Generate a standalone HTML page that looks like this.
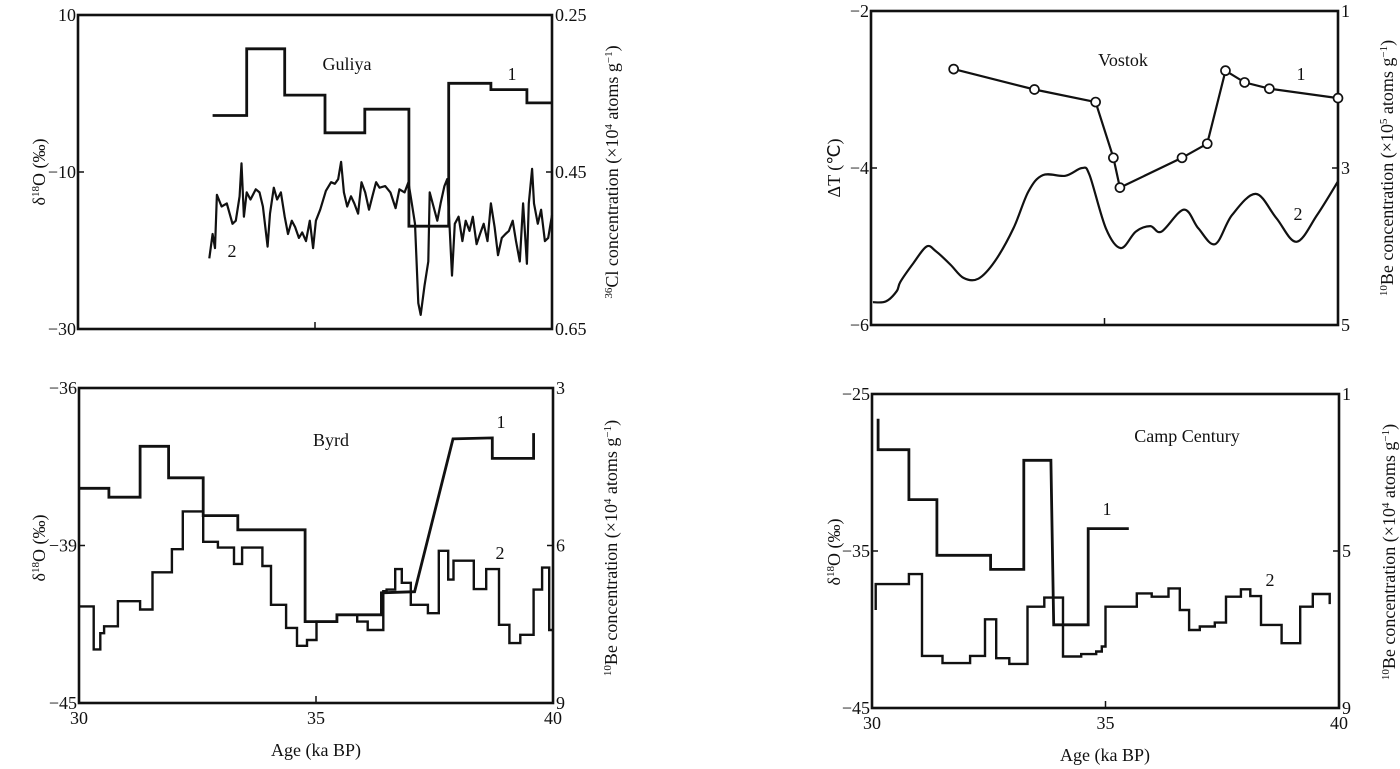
<!DOCTYPE html>
<html><head><meta charset="utf-8"><title>Ice core records 30-40 ka BP</title>
<style>
html,body{margin:0;padding:0;background:#fff;}
svg{display:block;font-family:"Liberation Serif",serif;}
text{fill:#111;}
.tick{font-size:18px;}
.ttl{font-size:18px;}
.lbl{font-size:18px;}
</style></head>
<body>
<svg id="chart" width="1400" height="769" viewBox="0 0 1400 769" xmlns="http://www.w3.org/2000/svg">
  <text class="ttl" transform="translate(45,172) rotate(-90)" text-anchor="middle">δ<tspan font-size="11" dy="-6">18</tspan><tspan dy="6">O (‰)</tspan></text>
  <text class="ttl" transform="translate(618,172) rotate(-90)" text-anchor="middle"><tspan font-size="11" dy="-6">36</tspan><tspan dy="6">Cl concentration (×10</tspan><tspan font-size="11" dy="-6">4</tspan><tspan dy="6"> atoms g</tspan><tspan font-size="11" dy="-6">−1</tspan><tspan dy="6">)</tspan></text>
  <text class="ttl" transform="translate(840,168) rotate(-90)" text-anchor="middle">ΔT (℃)</text>
  <text class="ttl" transform="translate(1393,168) rotate(-90)" text-anchor="middle"><tspan font-size="11" dy="-6">10</tspan><tspan dy="6">Be concentration (×10</tspan><tspan font-size="11" dy="-6">5</tspan><tspan dy="6"> atoms g</tspan><tspan font-size="11" dy="-6">−1</tspan><tspan dy="6">)</tspan></text>
  <text class="ttl" transform="translate(45,548) rotate(-90)" text-anchor="middle">δ<tspan font-size="11" dy="-6">18</tspan><tspan dy="6">O (‰)</tspan></text>
  <text class="ttl" transform="translate(617,548) rotate(-90)" text-anchor="middle"><tspan font-size="11" dy="-6">10</tspan><tspan dy="6">Be concentration (×10</tspan><tspan font-size="11" dy="-6">4</tspan><tspan dy="6"> atoms g</tspan><tspan font-size="11" dy="-6">−1</tspan><tspan dy="6">)</tspan></text>
  <text class="ttl" transform="translate(840,552) rotate(-90)" text-anchor="middle">δ<tspan font-size="11" dy="-6">18</tspan><tspan dy="6">O (‰)</tspan></text>
  <text class="ttl" transform="translate(1395,552) rotate(-90)" text-anchor="middle"><tspan font-size="11" dy="-6">10</tspan><tspan dy="6">Be concentration (×10</tspan><tspan font-size="11" dy="-6">4</tspan><tspan dy="6"> atoms g</tspan><tspan font-size="11" dy="-6">−1</tspan><tspan dy="6">)</tspan></text>
  <text class="ttl" x="316" y="756" text-anchor="middle">Age (ka BP)</text>
  <text class="ttl" x="1105" y="761" text-anchor="middle">Age (ka BP)</text>
  <text class="lbl" x="347" y="70" text-anchor="middle">Guliya</text>
  <text class="lbl" x="512" y="80" text-anchor="middle">1</text>
  <text class="lbl" x="232" y="257" text-anchor="middle">2</text>
  <text class="lbl" x="1123" y="66" text-anchor="middle">Vostok</text>
  <text class="lbl" x="1301" y="80" text-anchor="middle">1</text>
  <text class="lbl" x="1298" y="220" text-anchor="middle">2</text>
  <text class="lbl" x="331" y="446" text-anchor="middle">Byrd</text>
  <text class="lbl" x="501" y="428" text-anchor="middle">1</text>
  <text class="lbl" x="500" y="559" text-anchor="middle">2</text>
  <text class="lbl" x="1187" y="442" text-anchor="middle">Camp Century</text>
  <text class="lbl" x="1107" y="515" text-anchor="middle">1</text>
  <text class="lbl" x="1270" y="586" text-anchor="middle">2</text>
  <g id="marks"></g>
</svg>
<script>
const xTickValues = [30, 35, 40];
const xTickLabels = ["30", "35", "40"];

const guliyaLeftTicks = [10, -10, -30];
const guliyaLeftLabels = ["10", "−10", "−30"];
const guliyaRightTicks = [0.25, 0.45, 0.65];
const guliyaRightLabels = ["0.25", "0.45", "0.65"];
const guliyaClEdges = [32.84, 33.56, 34.36, 35.21, 36.05, 36.98, 37.82, 38.71, 39.47, 40.0];
const guliyaClLevels = [0.378, 0.293, 0.352, 0.400, 0.370, 0.519, 0.337, 0.345, 0.362];
const guliyaO18Ages = [32.77,32.84,32.89,32.93,33.03,33.14,33.26,33.33,33.41,33.45,33.50,33.56,33.64,33.75,33.83,33.90,34.00,34.05,34.13,34.20,34.28,34.36,34.43,34.51,34.58,34.66,34.73,34.81,34.89,34.96,35.02,35.11,35.23,35.34,35.42,35.49,35.55,35.61,35.68,35.76,35.83,35.91,35.98,36.06,36.14,36.21,36.29,36.36,36.48,36.59,36.70,36.78,36.89,36.97,37.03,37.11,37.18,37.23,37.31,37.39,37.42,37.50,37.58,37.65,37.73,37.79,37.84,37.89,37.95,38.03,38.11,38.18,38.26,38.33,38.41,38.48,38.56,38.64,38.71,38.79,38.86,38.94,39.02,39.09,39.17,39.24,39.32,39.39,39.47,39.51,39.58,39.62,39.70,39.77,39.85,39.92,40.0];
const guliyaO18Values = [-21.0,-17.9,-19.7,-12.9,-14.4,-14.0,-16.6,-16.2,-13.1,-8.9,-15.7,-12.6,-13.5,-12.2,-12.6,-14.4,-19.5,-15.3,-12.0,-13.5,-12.6,-15.7,-17.9,-16.2,-17.0,-18.4,-17.7,-18.8,-16.2,-19.7,-16.2,-14.8,-12.4,-11.3,-11.5,-10.9,-8.7,-12.6,-14.4,-13.1,-14.0,-15.3,-11.3,-12.6,-14.8,-13.1,-11.3,-12.0,-11.8,-12.6,-14.6,-12.2,-12.6,-11.3,-13.5,-16.6,-26.7,-28.2,-24.5,-21.4,-12.6,-14.4,-16.2,-14.0,-11.8,-10.9,-17.0,-23.2,-16.6,-15.7,-18.8,-16.2,-17.5,-15.7,-19.2,-17.9,-16.6,-18.8,-14.0,-17.0,-20.6,-18.4,-17.9,-17.5,-16.2,-18.8,-21.4,-14.0,-21.7,-14.0,-9.6,-14.0,-16.6,-14.8,-18.8,-18.4,-15.5];

const vostokLeftTicks = [-2, -4, -6];
const vostokLeftLabels = ["−2", "−4", "−6"];
const vostokRightTicks = [1, 3, 5];
const vostokRightLabels = ["1", "3", "5"];
const vostokBeAges = [31.77, 33.50, 34.81, 35.19, 35.33, 36.66, 37.20, 37.59, 38.00, 38.53, 40.0];
const vostokBeValues = [1.74, 2.00, 2.16, 2.87, 3.25, 2.87, 2.69, 1.76, 1.91, 1.99, 2.11];
const vostokTAges = [30.04,30.32,30.55,30.63,30.91,31.19,31.39,31.70,31.98,32.30,32.65,33.05,33.37,33.68,34.16,34.52,34.68,35.03,35.35,35.67,35.98,36.22,36.70,37.01,37.37,37.73,38.24,38.68,39.11,39.55,40.0];
const vostokTValues = [-5.71,-5.70,-5.57,-5.45,-5.21,-5.00,-5.06,-5.23,-5.40,-5.41,-5.19,-4.77,-4.30,-4.09,-4.10,-4.00,-4.09,-4.77,-5.02,-4.81,-4.74,-4.81,-4.53,-4.77,-4.97,-4.60,-4.33,-4.64,-4.94,-4.60,-4.17];

const byrdLeftTicks = [-36, -39, -42];
const byrdLeftLabels = ["−36", "−39", "−45"];
const byrdRightTicks = [3, 6, 9];
const byrdRightLabels = ["3", "6", "9"];
const byrdBeAges = [30.00,30.63,30.63,31.29,31.29,31.89,31.89,32.62,32.62,33.35,33.35,34.77,34.77,35.44,35.44,36.38,36.38,37.08,37.89,38.72,38.72,39.59,39.59];
const byrdBeValues = [4.91,4.91,5.08,5.08,4.11,4.11,4.71,4.71,5.43,5.43,5.70,5.70,7.45,7.45,7.32,7.32,6.90,6.88,3.97,3.95,4.34,4.34,3.86];
const byrdO18Edges = [30.00,30.31,30.45,30.53,30.82,31.29,31.55,31.96,32.19,32.62,32.93,33.27,33.44,33.87,34.05,34.37,34.60,34.81,35.01,35.44,35.87,36.09,36.42,36.49,36.67,36.81,37.00,37.36,37.59,37.79,37.90,38.33,38.59,38.86,39.08,39.31,39.59,39.77,39.92,40.0];
const byrdO18Levels = [-40.16,-40.98,-40.67,-40.54,-40.06,-40.22,-39.51,-39.07,-38.35,-38.93,-39.04,-39.35,-39.04,-39.39,-40.13,-40.57,-40.91,-40.80,-40.45,-40.32,-40.45,-40.61,-39.87,-39.84,-39.45,-39.71,-40.13,-40.29,-39.10,-39.65,-39.29,-39.83,-39.45,-40.51,-40.86,-40.70,-39.84,-39.42,-40.61];

const campLeftTicks = [-25, -35, -45];
const campLeftLabels = ["−25", "−35", "−45"];
const campRightTicks = [1, 5, 9];
const campRightLabels = ["1", "5", "9"];
const campBeAges = [30.13,30.13,30.79,30.79,31.39,31.39,32.54,32.54,33.25,33.25,33.83,33.89,34.63,34.63,35.50];
const campBeValues = [1.63,2.42,2.42,3.69,3.69,5.11,5.11,5.47,5.47,2.69,2.69,6.88,6.88,4.43,4.43];
const campO18Edges = [30.08,30.79,31.07,31.51,32.10,32.42,32.66,32.94,33.33,33.69,34.09,34.48,34.80,34.92,35.00,35.67,35.99,36.35,36.59,36.79,37.02,37.34,37.58,37.90,38.10,38.33,38.77,39.17,39.44,39.80];
const campO18Levels = [-37.11,-36.47,-41.68,-42.14,-41.68,-39.35,-41.83,-42.19,-38.55,-37.97,-41.72,-41.57,-41.40,-41.08,-38.55,-37.70,-37.91,-37.38,-38.76,-40.03,-39.81,-39.56,-37.91,-37.44,-37.87,-39.71,-40.87,-38.55,-37.74];
const campO18Tails = [-38.76, -38.38];

const NS = "http://www.w3.org/2000/svg";
const marks = document.getElementById("marks");
const panels = {
  guliya: {x0:78, x1:552, y0:15, y1:329, lt:10, lb:-30, rt:0.25, rb:0.65},
  vostok: {x0:871, x1:1338, y0:11, y1:325, lt:-2, lb:-6, rt:1, rb:5},
  byrd:   {x0:79, x1:553, y0:388, y1:703, lt:-36, lb:-42, rt:3, rb:9},
  camp:   {x0:872, x1:1339, y0:394, y1:708, lt:-25, lb:-45, rt:1, rb:9}
};
function sx(p, v){ return p.x0 + (v - 30) / 10 * (p.x1 - p.x0); }
function syL(p, v){ return p.y0 + (v - p.lt) / (p.lb - p.lt) * (p.y1 - p.y0); }
function syR(p, v){ return p.y0 + (v - p.rt) / (p.rb - p.rt) * (p.y1 - p.y0); }
function mk(tag, attrs, parent){
  const el = document.createElementNS(NS, tag);
  for (const k in attrs) el.setAttribute(k, attrs[k]);
  (parent || marks).appendChild(el);
  return el;
}
function txt(str, x, y, anchor){
  const t = mk("text", {x:x, y:y, "text-anchor":anchor, "class":"tick"});
  t.textContent = str;
  return t;
}

function drawFrame(key, p, leftT, leftL, rightT, rightL, showX){
  const r = mk("rect", {x:p.x0, y:p.y0, width:p.x1-p.x0, height:p.y1-p.y0, fill:"none", stroke:"#111", "stroke-width":2.6});
  
  
  leftT.forEach((v, i) => {
    const y = syL(p, v);
    const tk = mk("line", {x1:p.x0, x2:p.x0+6, y1:y, y2:y, stroke:"#111", "stroke-width":1.5});
    
    
    const t = txt(leftL[i], p.x0 - 2, y + 6, "end");
    
    
  });
  rightT.forEach((v, i) => {
    const y = syR(p, v);
    const tk = mk("line", {x1:p.x1-6, x2:p.x1, y1:y, y2:y, stroke:"#111", "stroke-width":1.5});
    
    
    const t = txt(rightL[i], p.x1 + 3, y + 6, "start");
    
    
  });
  xTickValues.forEach((v, i) => {
    const x = sx(p, v);
    if (i === 1) {
      const tk = mk("line", {x1:x, x2:x, y1:p.y1, y2:p.y1-7, stroke:"#111", "stroke-width":1.5});
      
      
    }
    if (showX) {
      const t = txt(xTickLabels[i], x, p.y1 + 21, "middle");
      
      
    }
  });
}

function stepPath(p, edges, levels, yf, tailStart, tailEnd){
  let d = "M" + sx(p, edges[0]).toFixed(1) + "," + (tailStart !== undefined ? yf(p, tailStart) : yf(p, levels[0])).toFixed(1);
  if (tailStart !== undefined) d += " V" + yf(p, levels[0]).toFixed(1);
  for (let i = 0; i < levels.length; i++) {
    d += " H" + sx(p, edges[i+1]).toFixed(1);
    if (i + 1 < levels.length) d += " V" + yf(p, levels[i+1]).toFixed(1);
  }
  if (tailEnd !== undefined) d += " V" + yf(p, tailEnd).toFixed(1);
  return d;
}
function linePath(p, xs, ys, yf){
  return xs.map((x, i) => (i ? "L" : "M") + sx(p, x).toFixed(1) + "," + yf(p, ys[i]).toFixed(1)).join(" ");
}
function smoothPath(p, xs, ys, yf){
  const pts = xs.map((x, i) => [sx(p, x), yf(p, ys[i])]);
  let d = "M" + pts[0][0].toFixed(1) + "," + pts[0][1].toFixed(1);
  for (let i = 0; i < pts.length - 1; i++) {
    const p0 = pts[Math.max(0, i-1)], p1 = pts[i], p2 = pts[i+1], p3 = pts[Math.min(pts.length-1, i+2)];
    const c1x = p1[0] + (p2[0]-p0[0])/6, c1y = p1[1] + (p2[1]-p0[1])/6;
    const c2x = p2[0] - (p3[0]-p1[0])/6, c2y = p2[1] - (p3[1]-p1[1])/6;
    d += " C" + c1x.toFixed(1)+","+c1y.toFixed(1)+" "+c2x.toFixed(1)+","+c2y.toFixed(1)+" "+p2[0].toFixed(1)+","+p2[1].toFixed(1);
  }
  return d;
}

const pg = panels.guliya;
drawFrame("guliya", pg, guliyaLeftTicks, guliyaLeftLabels, guliyaRightTicks, guliyaRightLabels, false);
const g1 = mk("path", {d: stepPath(pg, guliyaClEdges, guliyaClLevels, syR), fill:"none", stroke:"#111", "stroke-width":2.8});


const g2 = mk("path", {d: linePath(pg, guliyaO18Ages, guliyaO18Values, syL), fill:"none", stroke:"#111", "stroke-width":2.2, "stroke-linejoin":"round"});



const pv = panels.vostok;
drawFrame("vostok", pv, vostokLeftTicks, vostokLeftLabels, vostokRightTicks, vostokRightLabels, false);
const v2 = mk("path", {d: smoothPath(pv, vostokTAges, vostokTValues, syL), fill:"none", stroke:"#111", "stroke-width":2.2});


const v1 = mk("path", {d: linePath(pv, vostokBeAges, vostokBeValues, syR), fill:"none", stroke:"#111", "stroke-width":2.2});


vostokBeAges.forEach((a, i) => {
  const c = mk("circle", {cx:sx(pv, a), cy:syR(pv, vostokBeValues[i]), r:4.5, fill:"#fff", stroke:"#111", "stroke-width":1.7});
  
  
});

const pb = panels.byrd;
drawFrame("byrd", pb, byrdLeftTicks, byrdLeftLabels, byrdRightTicks, byrdRightLabels, true);
const b1 = mk("path", {d: linePath(pb, byrdBeAges, byrdBeValues, syR), fill:"none", stroke:"#111", "stroke-width":2.8});


const b2 = mk("path", {d: stepPath(pb, byrdO18Edges, byrdO18Levels, syL), fill:"none", stroke:"#111", "stroke-width":2.4});



const pc = panels.camp;
drawFrame("camp", pc, campLeftTicks, campLeftLabels, campRightTicks, campRightLabels, true);
const c1 = mk("path", {d: linePath(pc, campBeAges, campBeValues, syR), fill:"none", stroke:"#111", "stroke-width":2.8});


const c2 = mk("path", {d: stepPath(pc, campO18Edges, campO18Levels, syL, campO18Tails[0], campO18Tails[1]), fill:"none", stroke:"#111", "stroke-width":2.4});


</script>
</body></html>
